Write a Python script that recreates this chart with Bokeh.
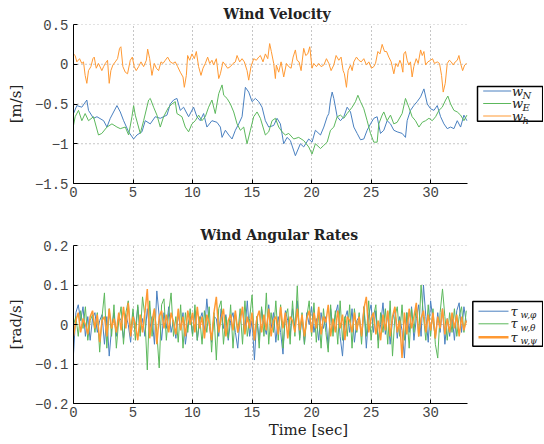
from bokeh.plotting import figure
from bokeh.models import FixedTicker, Range1d
from bokeh.layouts import column
from bokeh.core.properties import value
from bokeh.embed import file_html
from bokeh.resources import INLINE

# ---------------- data ----------------
x_ticks = [0, 5, 10, 15, 20, 25, 30]
x_tick_labels = ["0", "5", "10", "15", "20", "25", "30"]
vel_y_ticks = [-1.5, -1, -0.5, 0, 0.5]
vel_y_labels = ["\u22121.5", "\u22121", "\u22120.5", "0", "0.5"]
rate_y_ticks = [-0.2, -0.1, 0, 0.1, 0.2]
rate_y_labels = ["\u22120.2", "\u22120.1", "0", "0.1", "0.2"]

vel_legend_main = ["w", "w", "w"]
vel_legend_sub = ["N", "E", "h"]
rate_legend_main = ["\u03c4", "\u03c4", "\u03c4"]
rate_legend_sub = ["w,\u03c6", "w,\u03b8", "w,\u03c8"]

# wind velocity north  (time [s], value [m/s])
w_N_samples = [
    (0.0, -0.62), (0.28, -0.52), (0.7, -0.54), (1.12, -0.45), (1.26, -0.58), (1.68, -0.68), (1.97, -0.66), (2.53, -0.71), (2.81, -0.79), (3.09, -0.68),
    (3.65, -0.52), (3.93, -0.60), (4.21, -0.71), (4.63, -0.85), (5.05, -0.94), (5.33, -0.89), (5.75, -0.85), (6.03, -0.71), (6.45, -0.75), (6.87, -0.66),
    (7.29, -0.68), (7.85, -0.64), (8.13, -0.50), (8.41, -0.45), (8.69, -0.43), (8.97, -0.58), (9.25, -0.54), (9.67, -0.66), (10.09, -0.54), (10.37, -0.66),
    (10.65, -0.71), (10.93, -0.62), (11.21, -0.79), (11.63, -0.71), (12.05, -0.73), (12.34, -0.79), (12.48, -0.92), (12.76, -0.83), (13.04, -0.89), (13.32, -0.94),
    (13.6, -0.83), (13.88, -0.75), (14.16, -0.66), (14.44, -0.29), (14.72, -0.35), (15.0, -0.47), (15.28, -0.43), (15.56, -0.47), (15.84, -0.54), (16.12, -0.71),
    (16.4, -0.79), (16.82, -0.77), (17.1, -0.68), (17.38, -0.75), (17.66, -1.0), (17.94, -0.92), (18.22, -0.96), (18.64, -1.15), (19.06, -1.0), (19.34, -1.04),
    (19.76, -0.94), (20.04, -0.98), (20.32, -0.83), (20.75, -0.89), (21.03, -0.79), (21.31, -0.66), (21.45, -0.62), (21.59, -0.45), (21.73, -0.35), (21.87, -0.43),
    (22.15, -0.66), (22.43, -0.71), (22.71, -0.66), (22.99, -0.54), (23.27, -0.60), (23.55, -0.79), (23.83, -0.87), (24.11, -0.95), (24.39, -0.94), (24.67, -0.83),
    (24.95, -0.75), (25.23, -0.68), (25.51, -0.66), (25.79, -0.87), (26.07, -0.83), (26.35, -0.71), (26.63, -0.75), (26.91, -0.83), (27.19, -0.85), (27.61, -0.87),
    (27.89, -0.92), (28.03, -0.71), (28.31, -0.58), (28.59, -0.52), (28.87, -0.47), (29.16, -0.41), (29.44, -0.31), (29.72, -0.50), (30.0, -0.56), (30.28, -0.58),
    (30.56, -0.52), (30.84, -0.66), (31.12, -0.75), (31.4, -0.81), (31.68, -0.79), (31.96, -0.81), (32.24, -0.71), (32.52, -0.79), (32.8, -0.64), (33.05, -0.71),
]

# wind velocity east
w_E_samples = [
    (0.0, -0.77), (0.14, -0.66), (0.42, -0.58), (0.7, -0.71), (0.98, -0.62), (1.26, -0.71), (1.68, -0.66), (2.1, -0.89), (2.38, -0.87), (2.81, -0.79),
    (3.23, -0.75), (3.65, -0.79), (3.93, -0.81), (4.35, -0.79), (4.63, -0.89), (4.91, -0.66), (5.05, -0.52), (5.19, -0.64), (5.61, -0.87), (5.89, -0.71),
    (6.31, -0.45), (6.45, -0.43), (6.73, -0.54), (7.01, -0.64), (7.29, -0.79), (7.57, -0.66), (7.99, -0.54), (8.27, -0.50), (8.55, -0.47), (8.69, -0.62),
    (9.11, -0.66), (9.39, -0.79), (9.67, -0.85), (9.95, -0.75), (10.23, -0.71), (10.51, -0.64), (10.79, -0.71), (11.07, -0.66), (11.35, -0.54), (11.63, -0.45),
    (11.91, -0.62), (12.2, -0.37), (12.48, -0.26), (12.62, -0.39), (12.9, -0.43), (13.18, -0.50), (13.46, -0.60), (13.74, -0.75), (14.02, -0.83), (14.3, -0.79),
    (14.58, -1.0), (14.86, -0.83), (15.14, -0.66), (15.42, -0.60), (15.7, -0.68), (16.12, -0.89), (16.4, -0.85), (16.68, -0.71), (16.96, -0.68), (17.24, -0.79),
    (17.52, -0.85), (17.8, -0.89), (18.08, -0.87), (18.5, -0.94), (18.92, -0.92), (19.34, -0.96), (19.76, -1.04), (20.04, -1.13), (20.32, -1.0), (20.75, -1.06),
    (21.03, -1.02), (21.31, -0.98), (21.59, -0.83), (21.87, -0.79), (22.15, -0.66), (22.43, -0.64), (22.71, -0.68), (22.99, -0.62), (23.41, -0.54), (23.69, -0.47),
    (23.89, -0.39), (24.11, -0.47), (24.39, -0.56), (24.67, -0.71), (24.95, -0.87), (25.23, -0.98), (25.51, -0.98), (25.65, -0.75), (25.93, -0.64), (26.07, -0.60),
    (26.35, -0.71), (26.63, -0.64), (26.91, -0.75), (27.19, -0.73), (27.61, -0.62), (27.89, -0.43), (28.17, -0.54), (28.45, -0.66), (28.73, -0.71), (29.02, -0.79),
    (29.3, -0.73), (29.58, -0.71), (29.86, -0.68), (30.14, -0.71), (30.42, -0.66), (30.7, -0.58), (30.98, -0.54), (31.26, -0.45), (31.45, -0.40), (31.68, -0.50),
    (31.96, -0.58), (32.24, -0.60), (32.52, -0.64), (32.8, -0.71), (33.05, -0.64),
]

# wind velocity vertical
w_h_samples = [
    (0.0, 0.13), (0.14, 0.11), (0.28, 0.03), (0.51, 0.07), (0.7, 0.01), (0.84, 0.03), (0.98, -0.14), (1.12, -0.24), (1.26, -0.08), (1.46, -0.03),
    (1.63, 0.07), (1.74, 0.09), (1.91, -0.05), (2.1, 0.01), (2.38, -0.08), (2.53, -0.03), (2.67, 0.01), (2.86, 0.05), (3.0, -0.24), (3.14, -0.08),
    (3.31, -0.01), (3.51, 0.03), (3.7, 0.07), (3.87, 0.2), (3.98, 0.22), (4.15, -0.03), (4.35, -0.1), (4.54, -0.12), (4.77, 0.05), (4.94, 0.09),
    (5.1, -0.03), (5.27, -0.08), (5.47, -0.03), (5.67, 0.03), (5.89, -0.03), (6.12, 0.05), (6.23, 0.19), (6.4, 0.07), (6.59, -0.14), (6.79, 0.01),
    (6.96, -0.05), (7.15, -0.08), (7.35, 0.03), (7.52, 0.01), (7.71, 0.05), (7.91, 0.09), (8.13, 0.03), (8.35, 0.01), (8.55, 0.03), (8.75, -0.03),
    (8.97, -0.1), (9.2, -0.16), (9.31, -0.29), (9.48, -0.14), (9.59, 0.11), (9.76, 0.05), (9.95, 0.13), (10.15, 0.07), (10.32, 0.16), (10.51, -0.03),
    (10.71, -0.14), (10.88, -0.05), (11.07, 0.01), (11.27, 0.09), (11.44, 0.01), (11.63, 0.05), (11.77, -0.01), (12.0, 0.07), (12.2, -0.18), (12.34, -0.12),
    (12.56, 0.03), (12.76, -0.01), (12.95, -0.05), (13.18, -0.03), (13.4, 0.01), (13.6, 0.03), (13.74, 0.11), (13.96, 0.03), (14.16, 0.07), (14.35, 0.03),
    (14.58, -0.08), (14.72, -0.2), (14.91, -0.03), (15.14, 0.07), (15.36, 0.05), (15.56, 0.09), (15.7, 0.11), (15.92, 0.03), (16.12, 0.13), (16.32, 0.07),
    (16.48, 0.26), (16.62, 0.16), (16.82, 0.01), (16.96, -0.18), (17.04, -0.01), (17.24, -0.1), (17.44, 0.03), (17.66, -0.16), (17.89, 0.01), (18.08, -0.03),
    (18.28, -0.05), (18.45, 0.09), (18.64, 0.18), (18.78, 0.05), (18.95, 0.03), (19.12, -0.08), (19.34, 0.2), (19.51, 0.11), (19.68, 0.13), (19.85, 0.22),
    (20.04, -0.05), (20.18, 0.01), (20.41, -0.03), (20.6, 0.01), (20.8, -0.03), (21.03, -0.01), (21.25, 0.07), (21.45, 0.01), (21.64, -0.08), (21.87, -0.01),
    (22.06, 0.11), (22.29, 0.05), (22.48, 0.09), (22.65, -0.08), (22.76, -0.12), (22.93, -0.29), (23.07, -0.08), (23.27, -0.01), (23.41, -0.08), (23.55, 0.03),
    (23.77, 0.09), (23.97, 0.05), (24.17, 0.03), (24.39, 0.07), (24.61, -0.01), (24.81, 0.03), (25.03, -0.05), (25.23, -0.03), (25.37, 0.01), (25.57, 0.16),
    (25.74, 0.13), (25.93, 0.25), (26.13, 0.16), (26.3, 0.16), (26.49, 0.09), (26.69, 0.03), (26.91, -0.12), (27.08, 0.01), (27.25, -0.03), (27.42, 0.05),
    (27.53, 0.01), (27.67, -0.1), (27.75, 0.13), (27.89, 0.16), (28.03, 0.05), (28.17, -0.01), (28.31, 0.03), (28.45, -0.16), (28.59, -0.03), (28.79, 0.07),
    (28.96, 0.01), (29.16, 0.18), (29.3, 0.11), (29.44, 0.16), (29.58, -0.01), (29.77, 0.03), (30.0, 0.05), (30.16, 0.07), (30.33, 0.01), (30.56, 0.03),
    (30.75, 0.01), (30.92, -0.14), (31.06, -0.35), (31.23, -0.24), (31.4, 0.01), (31.57, 0.05), (31.73, 0.03), (31.9, -0.01), (32.07, 0.03), (32.24, 0.05),
    (32.38, 0.11), (32.52, 0.01), (32.69, -0.08), (32.86, -0.01), (33.02, 0.01),
]

# angular rates, sampled every 0.2 s from 0 to 33 s
rate_time = [round(0.2 * i, 1) for i in range(166)]
tau_phi = [
    -0.075, 0.03, 0.05, 0.01, 0.045, -0.03, 0.02, -0.04, 0.015, 0.03,
    -0.02, 0.01, 0.025, -0.05, 0.02, -0.08, -0.01, 0.03, -0.03, 0.02,
    0.01, -0.035, 0.025, 0.0, -0.045, 0.03, -0.01, 0.045, -0.02, 0.015,
    -0.03, 0.04, -0.015, 0.02, -0.05, 0.085, 0.02, -0.04, 0.03, -0.01,
    0.045, -0.02, 0.01, -0.035, 0.025, -0.01, 0.03, -0.05, 0.0, 0.02,
    -0.025, 0.035, -0.04, 0.01, 0.03, -0.02, 0.065, 0.0, -0.045, 0.02,
    0.015, -0.03, 0.04, -0.01, 0.025, -0.04, 0.01, 0.03, -0.02, -0.06,
    0.02, 0.035, -0.015, 0.06, -0.03, 0.01, -0.09, 0.02, -0.04, 0.04,
    0.0, -0.025, 0.05, -0.01, 0.03, -0.045, 0.02, -0.02, -0.075, 0.035,
    0.01, -0.03, 0.04, -0.01, 0.06, -0.035, 0.02, -0.05, 0.03, 0.0,
    0.045, -0.02, 0.015, -0.04, 0.03, -0.01, 0.02, -0.06, 0.04, -0.015,
    0.025, 0.05, -0.03, -0.08, 0.015, 0.035, -0.02, 0.04, -0.045, 0.01,
    0.02, -0.03, 0.045, -0.06, 0.025, 0.05, -0.02, 0.035, -0.04, 0.0,
    0.055, -0.025, 0.03, -0.05, 0.01, 0.04, -0.035, 0.02, -0.015, -0.085,
    0.03, -0.02, 0.045, -0.04, 0.015, 0.05, -0.03, 0.1, 0.02, -0.045,
    0.06, 0.01, -0.035, 0.03, -0.02, 0.04, -0.05, 0.015, -0.03, 0.025,
    -0.04, 0.035, 0.055, -0.02, 0.045, 0.005,
]
tau_theta = [
    0.0, 0.02, -0.03, 0.035, -0.01, 0.045, -0.04, 0.01, 0.025, -0.02,
    0.03, -0.07, 0.02, 0.08, -0.06, 0.04, -0.03, 0.05, -0.06, 0.01,
    0.045, -0.05, 0.03, 0.06, -0.02, 0.04, -0.04, 0.05, -0.03, 0.07,
    0.02, -0.115, 0.06, -0.03, 0.04, -0.02, -0.11, 0.05, 0.065, -0.04,
    0.03, 0.08, -0.03, 0.02, -0.045, 0.05, -0.06, 0.03, -0.02, 0.04,
    -0.03, 0.05, -0.04, 0.02, -0.05, 0.035, -0.02, 0.045, -0.07, 0.03,
    -0.09, 0.04, 0.06, -0.05, 0.02, -0.035, 0.05, -0.06, 0.03, -0.02,
    0.04, -0.05, 0.06, -0.03, 0.015, 0.075, -0.04, 0.02, -0.06, 0.045,
    -0.03, 0.08, -0.05, 0.03, -0.02, 0.06, -0.04, 0.05, -0.06, 0.02,
    0.04, -0.05, 0.06, -0.03, 0.098, -0.04, 0.03, -0.05, 0.02, 0.06,
    -0.03, 0.055, -0.045, 0.03, -0.06, 0.04, -0.02, -0.07, 0.05, -0.03,
    0.035, -0.05, 0.06, -0.04, 0.02, -0.03, 0.05, -0.06, 0.04, -0.02,
    0.03, -0.05, 0.045, -0.03, 0.06, -0.04, 0.02, 0.05, -0.06, 0.03,
    -0.02, 0.04, -0.05, 0.06, -0.08, 0.02, 0.045, -0.03, 0.05, -0.04,
    0.03, -0.06, 0.04, -0.02, 0.05, -0.03, 0.1, 0.02, -0.04, 0.05,
    -0.03, 0.04, -0.05, -0.085, 0.03, 0.09, 0.02, -0.04, 0.03, -0.02,
    0.04, -0.03, 0.02, 0.045, -0.02, 0.035,
]
tau_psi = [
    -0.03, 0.01, 0.03, -0.02, 0.015, 0.0, -0.025, 0.02, 0.035, -0.01,
    0.025, -0.045, 0.01, 0.02, -0.03, 0.04, -0.01, 0.015, -0.02, 0.03,
    -0.015, 0.045, -0.01, 0.055, -0.03, 0.02, 0.0, -0.04, 0.025, -0.02,
    0.03, 0.09, -0.035, 0.01, 0.04, -0.05, 0.02, 0.035, -0.01, 0.025,
    -0.02, 0.03, 0.005, -0.025, 0.04, -0.015, 0.02, -0.03, 0.035, 0.0,
    0.03, -0.02, 0.045, -0.01, 0.02, -0.035, 0.025, 0.005, -0.04, 0.03,
    0.07, -0.02, 0.015, 0.04, -0.03, 0.01, 0.025, -0.015, 0.035, -0.02,
    0.01, 0.045, -0.025, 0.02, -0.01, 0.03, -0.04, 0.015, 0.035, -0.02,
    0.025, -0.015, 0.04, -0.03, 0.01, 0.02, -0.025, 0.045, -0.01, 0.03,
    -0.035, 0.02, 0.01, -0.02, 0.04, -0.015, 0.025, -0.03, 0.015, 0.035,
    -0.02, 0.03, -0.01, 0.045, -0.025, 0.02, 0.005, 0.05, -0.03, 0.015,
    -0.02, 0.035, -0.01, 0.025, -0.04, 0.02, 0.01, -0.02, 0.03, -0.015,
    0.02, -0.03, 0.04, 0.07, -0.02, 0.015, 0.03, -0.025, 0.01, -0.04,
    0.025, -0.015, 0.035, -0.03, 0.02, 0.045, -0.02, 0.01, -0.085, 0.03,
    -0.025, 0.04, -0.01, 0.02, 0.055, -0.03, 0.015, 0.035, -0.02, 0.025,
    -0.015, 0.03, -0.035, 0.02, -0.01, 0.04, -0.025, 0.015, -0.02, 0.03,
    -0.01, 0.025, -0.03, 0.02, -0.015, 0.01,
]

# ---------------- styling / geometry ----------------
C_BLUE = "#4a80c0"
C_GREEN = "#5cb85c"
C_ORANGE = "#ff9933"
TICK_FONT = "Liberation Mono"
SERIF = "DejaVu Serif"
W = 543
H1 = 205
H2 = 238
LEFT = 73          # frame left edge (px)
AXIS_PX = 394      # px covered by the time axis 0..T_END
T_END = 33.1
FRAME_W = W - LEFT
X_END = T_END * FRAME_W / AXIS_PX   # frame extends right to hold the legend


def px2x(px):
    return (px - LEFT) / AXIS_PX * T_END


def style(p, yticks, ylabels, ylabel, title_offset, xlabel=None):
    p.outline_line_color = None
    p.title.text_font = SERIF
    p.title.text_font_size = "14px"
    p.title.text_font_style = "bold"
    p.title.text_color = "#222222"
    p.title.align = "left"
    p.title.offset = title_offset
    for ax in (p.xaxis[0], p.yaxis[0]):
        ax.axis_line_color = "black"
        ax.axis_line_width = 1
        ax.major_tick_in = 4
        ax.major_tick_out = 0
        ax.minor_tick_line_color = None
        ax.major_tick_line_color = "black"
        ax.major_label_text_font = TICK_FONT
        ax.major_label_text_font_size = "14px"
        ax.major_label_text_color = "#444444"
        ax.axis_label_text_font = SERIF
        ax.axis_label_text_font_style = "normal"
        ax.axis_label_text_font_size = "15px"
        ax.axis_label_text_color = "#222222"
    p.xaxis[0].bounds = (0, T_END)
    p.xaxis[0].ticker = FixedTicker(ticks=x_ticks)
    p.xaxis[0].major_label_overrides = {float(k): v for k, v in zip(x_ticks, x_tick_labels)}
    p.xaxis[0].major_label_standoff = 3
    p.yaxis[0].ticker = FixedTicker(ticks=yticks)
    p.yaxis[0].major_label_overrides = {float(k): v for k, v in zip(yticks, ylabels)}
    p.yaxis[0].major_label_standoff = 5
    p.yaxis[0].axis_label = ylabel
    p.yaxis[0].axis_label_standoff = 7
    if xlabel:
        p.xaxis[0].axis_label = xlabel
        p.xaxis[0].axis_label_standoff = 1
    # vertical dotted grid at the time ticks
    p.xgrid[0].ticker = FixedTicker(ticks=x_ticks)
    p.xgrid[0].grid_line_color = "#8c8c8c"
    p.xgrid[0].grid_line_dash = "1 3"
    p.xgrid[0].grid_line_width = 1
    # horizontal dotted grid only across the time axis span
    p.ygrid[0].visible = False
    p.segment(x0=[0] * len(yticks), x1=[T_END] * len(yticks), y0=yticks, y1=yticks,
              line_color="#8c8c8c", line_dash="1 3", line_width=1, level="underlay")


def draw_legend(p, px_to_y, box, rows, line_px, colors, widths, main, sub, main_px, sub_px,
                main_size, sub_size):
    l, r, t, b = box
    p.quad(left=[px2x(l)], right=[px2x(r)], top=[px_to_y(t)], bottom=[px_to_y(b)],
           fill_color="white", line_color="black", line_width=1.5)
    ys = [px_to_y(ry) for ry in rows]
    p.segment(x0=[px2x(line_px[0])] * len(rows), x1=[px2x(line_px[1])] * len(rows),
              y0=ys, y1=ys, line_color=colors, line_width=widths)
    p.text(x=[px2x(main_px)] * len(rows), y=ys, text=main, text_font=value(SERIF),
           text_font_style="italic", text_font_size=main_size, text_color="#222222",
           text_baseline="middle", text_align="left")
    p.text(x=[px2x(sub_px)] * len(rows), y=ys, text=sub, text_font=value(SERIF),
           text_font_style="italic", text_font_size=sub_size, text_color="#222222",
           text_baseline="middle", text_align="left", y_offset=4)


# ---- top: wind velocity ----
p1 = figure(width=W, height=H1, output_backend="svg", toolbar_location=None,
            x_range=Range1d(0, X_END), y_range=Range1d(-1.5, 0.5),
            title="Wind Velocity",
            min_border_left=LEFT, min_border_right=0, min_border_top=24, min_border_bottom=22)
p1.title.standoff = 5
style(p1, vel_y_ticks, vel_y_labels, "[m/s]", 150)

tN, vN = zip(*w_N_samples)
tE, vE = zip(*w_E_samples)
tH, vH = zip(*w_h_samples)
p1.line(list(tN), list(vN), line_color=C_BLUE, line_width=1)
p1.line(list(tE), list(vE), line_color=C_GREEN, line_width=1)
p1.line(list(tH), list(vH), line_color=C_ORANGE, line_width=1)


def py_top(py):  # page y (px) -> data, top panel frame 24..183
    return 0.5 - (py - 24) / 159 * 2.0


draw_legend(p1, py_top, (477, 542.2, 86, 120.7), [90.5, 103, 115.5], (482.7, 510.7),
            [C_BLUE, C_GREEN, C_ORANGE], [1, 1, 1],
            vel_legend_main, vel_legend_sub, 511.5, 522, "13px", "10px")

# ---- bottom: wind angular rates ----
p2 = figure(width=W, height=H2, output_backend="svg", toolbar_location=None,
            x_range=Range1d(0, X_END), y_range=Range1d(-0.2, 0.2),
            title="Wind Angular Rates",
            min_border_left=LEFT, min_border_right=0, min_border_top=40, min_border_bottom=40)
p2.title.standoff = 6
style(p2, rate_y_ticks, rate_y_labels, "[rad/s]", 127, xlabel="Time [sec]")

p2.line(rate_time, tau_phi, line_color=C_BLUE, line_width=1)
p2.line(rate_time, tau_theta, line_color=C_GREEN, line_width=1)
p2.line(rate_time, tau_psi, line_color=C_ORANGE, line_width=1.5)


def py_bot(py):  # page y (px) -> data, bottom panel frame 245..403
    return 0.2 - (py - 245) / 158 * 0.4


draw_legend(p2, py_bot, (472.3, 542.2, 301, 345.7), [310.7, 323.3, 336.7], (478, 508),
            [C_BLUE, C_GREEN, C_ORANGE], [1, 1, 2.5],
            rate_legend_main, rate_legend_sub, 510, 520, "13px", "9px")

layout = column(p1, p2, spacing=0)
open("out.html", "w").write(file_html(layout, INLINE))
